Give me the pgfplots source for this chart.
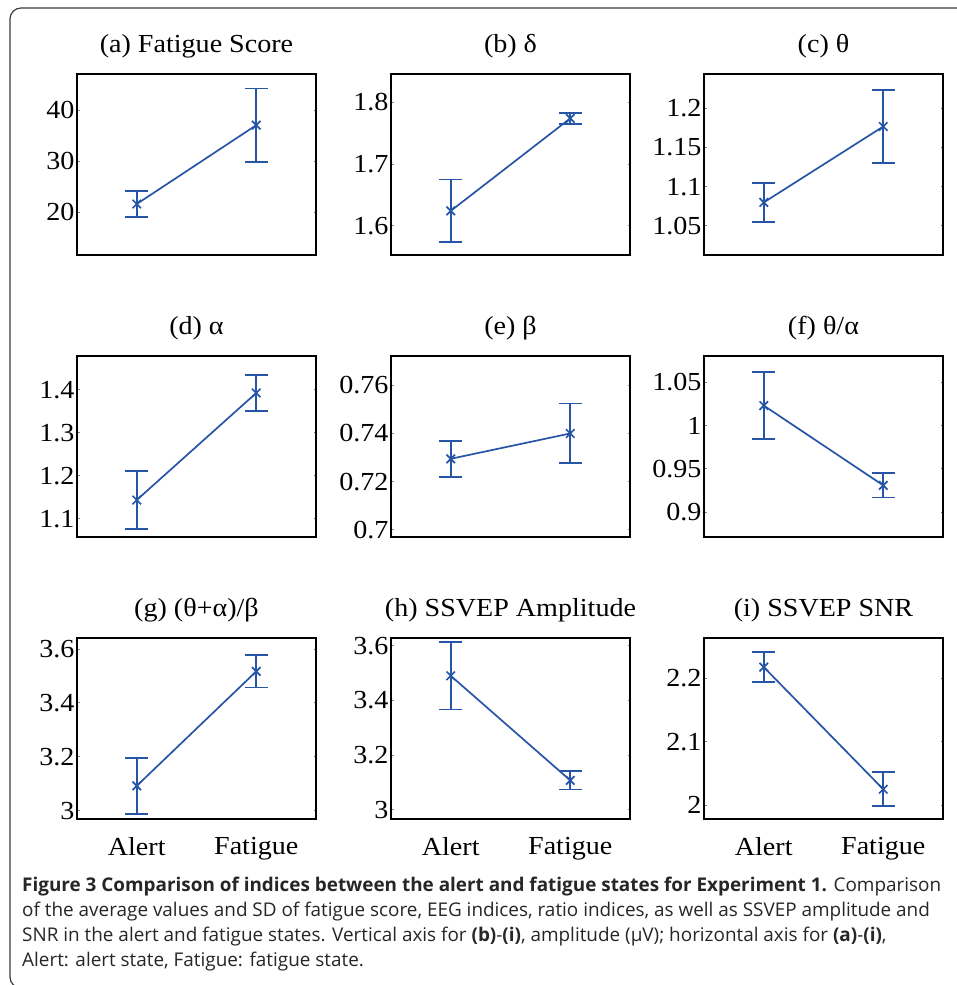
\documentclass[border=0pt]{standalone}
\usepackage{fontspec}
\setmainfont[FakeStretch=1.08]{Liberation Serif}
\newfontfamily\capfont{Open Sans}
\usepackage{pgfplots}
\pgfplotsset{compat=1.18}

\definecolor{lineblue}{RGB}{38,84,166}
\definecolor{boxgray}{RGB}{60,60,60}

\pgfplotsset{
  panel/.style={
    scale only axis,
    width=239pt, height=181pt,
    anchor=south west,
    xmin=0.5, xmax=2.5,
    xtick={1,2}, xticklabels={},
    xtick style={draw=none},
    axis line style={line width=1.8pt},
    tick align=inside,
    major tick length=2.5pt,
    ytick style={line width=1pt},
    scaled y ticks=false,
    /pgf/number format/assume math mode=true,
    tick label style={font=\fontsize{26}{26}\selectfont},
    yticklabel style={xshift=1pt},
    xticklabel style={yshift=-15pt},
    title style={font=\fontsize{26}{26}\selectfont, at={(0.5,1)}, anchor=base, yshift=15pt},
  },
  meanline/.style={
    color=lineblue, line width=1.7pt, mark=x, mark size=6pt,
    mark options={line width=1.7pt},
    error bars/.cd, y dir=both, y explicit,
    error bar style={color=lineblue, line width=1.8pt},
    error mark options={rotate=90, color=lineblue, mark size=11.5pt, line width=1.8pt},
  },
}

\begin{document}
\begin{tikzpicture}
\path[use as bounding box] (0pt,0pt) rectangle (957pt,985pt);

% frame of the figure box
\draw[boxgray, line width=1.2pt, rounded corners=11pt]
  (960pt,977pt) -- (10pt,977pt) -- (10pt,-3pt) -- (960pt,-3pt);

% ---- row 1
\begin{axis}[panel, at={(77pt,730pt)}, ymin=11.6, ymax=47.1, ytick={20,30,40},
  title={(a) Fatigue Score}]
\addplot[meanline] coordinates {(1,21.6) +- (0,2.5) (2,37.06) +- (0,7.2)};
\end{axis}

\begin{axis}[panel, at={(391pt,730pt)}, ymin=1.5525, ymax=1.846, ytick={1.6,1.7,1.8},
  title={(b) δ}]
\addplot[meanline] coordinates {(1,1.624) +- (0,0.051) (2,1.774) +- (0,0.009)};
\end{axis}

\begin{axis}[panel, at={(704pt,730pt)}, ymin=1.013, ymax=1.2438, ytick={1.05,1.1,1.15,1.2},
  title={(c) θ}]
\addplot[meanline] coordinates {(1,1.080) +- (0,0.0245) (2,1.1768) +- (0,0.0467)};
\end{axis}

% ---- row 2
\begin{axis}[panel, at={(77pt,448pt)}, ymin=1.058, ymax=1.479, ytick={1.1,1.2,1.3,1.4},
  title={(d) α}]
\addplot[meanline] coordinates {(1,1.144) +- (0,0.068) (2,1.393) +- (0,0.042)};
\end{axis}

\begin{axis}[panel, at={(391pt,448pt)}, ymin=0.6971, ymax=0.7721, ytick={0.7,0.72,0.74,0.76},
  title={(e) β}]
\addplot[meanline] coordinates {(1,0.7295) +- (0,0.0075) (2,0.740) +- (0,0.0124)};
\end{axis}

\begin{axis}[panel, at={(704pt,448pt)}, ymin=0.8713, ymax=1.0806, ytick={0.9,0.95,1,1.05},
  title={(f) θ/α}]
\addplot[meanline] coordinates {(1,1.0233) +- (0,0.039) (2,0.931) +- (0,0.014)};
\end{axis}

% ---- row 3
\begin{axis}[panel, at={(77pt,166pt)}, ymin=2.969, ymax=3.641, ytick={3,3.2,3.4,3.6},
  xticklabels={Alert,Fatigue}, title={(g) (θ+α)/β}]
\addplot[meanline] coordinates {(1,3.092) +- (0,0.103) (2,3.517) +- (0,0.06)};
\end{axis}

\begin{axis}[panel, at={(391pt,166pt)}, ymin=2.967, ymax=3.628, ytick={3,3.2,3.4,3.6},
  xticklabels={Alert,Fatigue}, title={(h) SSVEP Amplitude}]
\addplot[meanline] coordinates {(1,3.49) +- (0,0.123) (2,3.108) +- (0,0.033)};
\end{axis}

\begin{axis}[panel, at={(704pt,166pt)}, ymin=1.978, ymax=2.264, ytick={2,2.1,2.2},
  xticklabels={Alert,Fatigue}, title={(i) SSVEP SNR}]
\addplot[meanline] coordinates {(1,2.218) +- (0,0.024) (2,2.025) +- (0,0.027)};
\end{axis}

% ---- caption
\begin{scope}[every node/.style={anchor=base west, inner sep=0pt, text=black!85,
    font=\capfont\fontsize{18.9}{18.9}\selectfont}]
\node at (22pt,93pt) {\textbf{Figure 3 Comparison of indices between the alert and fatigue states for Experiment 1.} Comparison};
\node at (22pt,68pt) {of the average values and SD of fatigue score, EEG indices, ratio indices, as well as SSVEP amplitude and};
\node at (22pt,43pt) {SNR in the alert and fatigue states. Vertical axis for \textbf{(b)}-\textbf{(i)}, amplitude (μV); horizontal axis for \textbf{(a)}-\textbf{(i)},};
\node at (22pt,18pt) {Alert: alert state, Fatigue: fatigue state.};
\end{scope}
\end{tikzpicture}
\end{document}
